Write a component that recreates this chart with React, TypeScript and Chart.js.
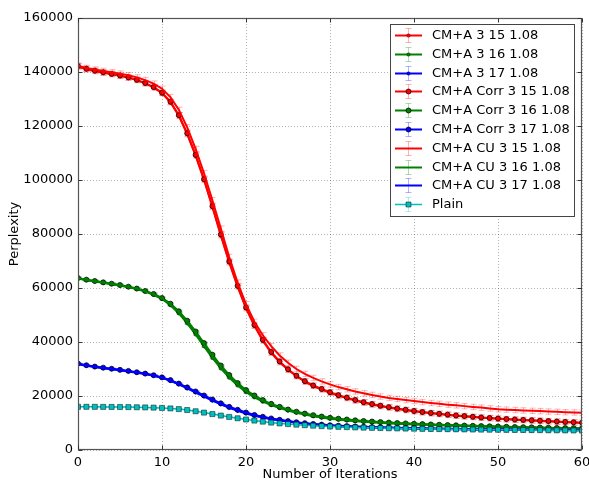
import React, { useEffect, useRef } from "react";
import { Chart, registerables } from "chart.js";

Chart.register(...registerables);

const ITERATIONS = Array.from({ length: 61 }, (_, i) => i);
const X_TICKS = [0, 10, 20, 30, 40, 50, 60];
const Y_TICKS = [0, 20000, 40000, 60000, 80000, 100000, 120000, 140000, 160000];
const X_TITLE = "Number of Iterations";
const Y_TITLE = "Perplexity";

const LABELS = [
  "CM+A 3 15 1.08",
  "CM+A 3 16 1.08",
  "CM+A 3 17 1.08",
  "CM+A Corr 3 15 1.08",
  "CM+A Corr 3 16 1.08",
  "CM+A Corr 3 17 1.08",
  "CM+A CU 3 15 1.08",
  "CM+A CU 3 16 1.08",
  "CM+A CU 3 17 1.08",
  "Plain",
];

const CMA_3_15 = [142000,141000,140300,139700,139200,138600,137900,137000,135800,134300,132200,
  128800,123800,117000,109000,100000,90000,79500,69500,60500,52500,
  46000,40500,36000,32500,29700,27300,25300,23700,22400,21200,
  20100,19200,18300,17500,16800,16200,15700,15200,14750,14350,
  13950,13600,13300,13000,12700,12450,12200,11950,11750,11550,
  11350,11200,11050,10900,10750,10600,10450,10300,10150,10000];
const CMA_3_16 = [63500,62900,62400,61900,61400,60900,60300,59600,58700,57500,55900,
  53600,50600,46900,42800,38400,34100,30200,26800,23900,21400,
  19500,17900,16600,15500,14600,13800,13100,12500,12000,11600,
  11250,10950,10700,10450,10250,10050,9880,9730,9590,9460,
  9340,9230,9130,9030,8940,8850,8770,8690,8610,8530,
  8460,8390,8320,8250,8180,8110,8050,7990,7930,7870];
const CMA_3_17 = [31800,31200,30700,30300,29900,29500,29100,28600,28100,27500,26700,
  25600,24300,22800,21300,19800,18300,16900,15600,14500,13500,
  12700,12000,11400,10900,10450,10050,9700,9400,9150,8950,
  8780,8630,8500,8380,8280,8190,8110,8040,7970,7910,
  7860,7810,7760,7720,7680,7640,7600,7570,7540,7510,
  7480,7450,7420,7400,7380,7350,7330,7310,7290,7270];
const CORR_3_15 = [142200,141200,140500,139900,139300,138700,138000,137100,135900,134400,132300,
  129000,124000,117300,109300,100300,90300,79800,69800,60800,52800,
  46300,40800,36300,32800,29900,27500,25500,23900,22600,21400,
  20300,19400,18500,17700,17000,16400,15850,15350,14900,14450,
  14050,13700,13400,13100,12800,12550,12300,12050,11850,11650,
  11450,11300,11150,11000,10850,10700,10550,10400,10250,10100];
const CORR_3_16 = [63700,63100,62600,62100,61600,61100,60500,59800,58900,57800,56300,
  54200,51400,47900,43900,39600,35300,31300,27800,24800,22200,
  20200,18500,17100,16000,15000,14200,13500,12900,12400,11950,
  11600,11300,11000,10750,10550,10350,10170,10000,9850,9720,
  9590,9470,9360,9250,9150,9050,8960,8870,8780,8700,
  8620,8540,8470,8400,8330,8260,8190,8130,8070,8010];
const CORR_3_17 = [32000,31400,30900,30500,30100,29700,29300,28800,28300,27700,26900,
  25900,24600,23200,21700,20200,18700,17300,16000,14900,13900,
  13000,12300,11700,11200,10700,10300,9950,9650,9400,9180,
  9000,8850,8710,8590,8480,8380,8290,8210,8140,8080,
  8020,7970,7920,7870,7830,7790,7750,7710,7680,7650,
  7620,7590,7560,7530,7510,7480,7460,7440,7420,7400];
const CU_3_15 = [142300,141500,140900,140400,139900,139400,138800,138000,137000,135700,133800,
  130700,126000,119500,111500,102500,92500,82000,71500,62000,54000,
  47500,42500,38500,35000,32300,30000,28200,26700,25400,24300,
  23300,22500,21700,21000,20400,19800,19300,18900,18500,18150,
  17750,17400,17100,16800,16550,16250,15950,15700,15400,15100,
  14950,14800,14650,14500,14400,14250,14150,14000,13900,13800];
const CU_3_16 = [63600,63000,62500,62000,61500,61000,60400,59700,58800,57700,56100,
  53900,51000,47400,43400,39000,34700,30700,27300,24300,21800,
  19800,18200,16900,15800,14800,14000,13300,12700,12200,11750,
  11400,11100,10850,10600,10400,10200,10030,9870,9720,9590,
  9460,9350,9240,9140,9040,8950,8860,8770,8690,8610,
  8530,8460,8390,8320,8250,8190,8130,8070,8010,7950];
const CU_3_17 = [31900,31300,30800,30400,30000,29600,29200,28700,28200,27600,26800,
  25750,24450,23000,21500,20000,18500,17100,15800,14700,13700,
  12850,12150,11550,11050,10600,10200,9850,9550,9300,9080,
  8900,8750,8620,8500,8400,8300,8220,8140,8070,8010,
  7950,7900,7850,7810,7770,7730,7690,7660,7630,7600,
  7570,7540,7510,7490,7460,7440,7420,7400,7380,7360];
const PLAIN = [16000,16000,15990,15970,15950,15920,15880,15830,15770,15690,15580,
  15400,15150,14800,14350,13850,13300,12750,12250,11750,11300,
  10900,10500,10150,9850,9600,9380,9180,9000,8840,8700,
  8580,8470,8370,8280,8200,8130,8060,8000,7940,7890,
  7840,7790,7750,7710,7670,7630,7590,7560,7530,7500,
  7470,7440,7410,7380,7350,7320,7290,7260,7230,7200];

// error-bar half sizes (data units)
const ERR_15 = 1000;
const ERR_16 = 400;
const ERR_17 = 250;
const ERR_PLAIN = 150;

const RED = "#ff0000";
const GREEN = "#008000";
const BLUE = "#0000ff";
const CYAN = "#00bfbf";
const ERR_COLORS: Record<string, string> = {
  [RED]: "rgba(255,0,0,0.3)",
  [GREEN]: "rgba(0,128,0,0.3)",
  [BLUE]: "rgba(0,0,255,0.3)",
  [CYAN]: "rgba(0,191,191,0.3)",
};

type Kind = "A" | "Corr" | "CU" | "Plain";
const SERIES: { label: string; values: number[]; color: string; kind: Kind; err: number }[] = [
  { label: LABELS[0], values: CMA_3_15, color: RED, kind: "A", err: ERR_15 },
  { label: LABELS[1], values: CMA_3_16, color: GREEN, kind: "A", err: ERR_16 },
  { label: LABELS[2], values: CMA_3_17, color: BLUE, kind: "A", err: ERR_17 },
  { label: LABELS[3], values: CORR_3_15, color: RED, kind: "Corr", err: ERR_15 },
  { label: LABELS[4], values: CORR_3_16, color: GREEN, kind: "Corr", err: ERR_16 },
  { label: LABELS[5], values: CORR_3_17, color: BLUE, kind: "Corr", err: ERR_17 },
  { label: LABELS[6], values: CU_3_15, color: RED, kind: "CU", err: ERR_15 },
  { label: LABELS[7], values: CU_3_16, color: GREEN, kind: "CU", err: ERR_16 },
  { label: LABELS[8], values: CU_3_17, color: BLUE, kind: "CU", err: ERR_17 },
  { label: LABELS[9], values: PLAIN, color: CYAN, kind: "Plain", err: ERR_PLAIN },
];

const FONT = '"DejaVu Sans", sans-serif';

function drawMarker(ctx: CanvasRenderingContext2D, kind: Kind, color: string, x: number, y: number) {
  if (kind === "CU") return;
  ctx.save();
  ctx.fillStyle = color;
  if (kind === "Plain") {
    ctx.strokeStyle = "rgba(0,0,0,0.6)";
    ctx.lineWidth = 0.8;
    ctx.beginPath();
    ctx.rect(x - 2.5, y - 2.5, 5, 5);
    ctx.fill();
    ctx.stroke();
  } else {
    const r = kind === "Corr" ? 2.5 : 1.8;
    ctx.strokeStyle = kind === "Corr" ? "rgba(0,0,0,0.75)" : "rgba(0,0,0,0.55)";
    ctx.lineWidth = kind === "Corr" ? 1 : 0.6;
    ctx.beginPath();
    ctx.arc(x, y, r, 0, Math.PI * 2);
    ctx.fill();
    ctx.stroke();
  }
  ctx.restore();
}

const decorPlugin = {
  id: "decor",
  beforeDatasetDraw(chart: any, args: any) {
    const s = SERIES[args.index];
    if (!s) return;
    const { ctx, chartArea: a } = chart;
    const xs = chart.scales.x;
    const ys = chart.scales.y;
    ctx.save();
    ctx.beginPath();
    ctx.rect(a.left, a.top, a.right - a.left, a.bottom - a.top);
    ctx.clip();
    ctx.strokeStyle = ERR_COLORS[s.color];
    ctx.lineWidth = 1;
    ITERATIONS.forEach((it, i) => {
      const px = Math.round(xs.getPixelForValue(it)) + 0.5;
      const v = s.values[i];
      const y1 = ys.getPixelForValue(v - s.err);
      const y2 = ys.getPixelForValue(v + s.err);
      ctx.beginPath();
      ctx.moveTo(px, y1);
      ctx.lineTo(px, y2);
      ctx.moveTo(px - 3, y1);
      ctx.lineTo(px + 3, y1);
      ctx.moveTo(px - 3, y2);
      ctx.lineTo(px + 3, y2);
      ctx.stroke();
    });
    ctx.restore();
  },
  afterDraw(chart: any) {
    const { ctx, chartArea: a } = chart;
    const xs = chart.scales.x;
    const ys = chart.scales.y;
    ctx.save();
    // frame
    ctx.strokeStyle = "#555";
    ctx.lineWidth = 1.2;
    const L = Math.round(a.left) + 0.5;
    const R = Math.round(a.right) - 0.5;
    const T = Math.round(a.top) + 0.5;
    const B = Math.round(a.bottom) - 0.5;
    ctx.strokeRect(L, T, R - L, B - T);
    // inward ticks
    ctx.strokeStyle = "#333";
    ctx.lineWidth = 1;
    ctx.beginPath();
    X_TICKS.forEach((v) => {
      const px = Math.round(xs.getPixelForValue(v)) + 0.5;
      ctx.moveTo(px, B);
      ctx.lineTo(px, B - 4);
      ctx.moveTo(px, T);
      ctx.lineTo(px, T + 4);
    });
    Y_TICKS.forEach((v) => {
      const py = Math.round(ys.getPixelForValue(v)) + 0.5;
      ctx.moveTo(L, py);
      ctx.lineTo(L + 4, py);
      ctx.moveTo(R, py);
      ctx.lineTo(R - 4, py);
    });
    ctx.stroke();

    // legend
    const bx = 390.5, by = 24.5, bw = 184, bh = 192;
    ctx.fillStyle = "#fff";
    ctx.fillRect(bx, by, bw, bh);
    ctx.strokeStyle = "#444";
    ctx.lineWidth = 1;
    ctx.strokeRect(bx, by, bw, bh);
    ctx.font = `13px ${FONT}`;
    ctx.textBaseline = "middle";
    ctx.textAlign = "left";
    SERIES.forEach((s, i) => {
      const cy = Math.round(35 + i * 18.8) + 0.5;
      const x0 = 395, x1 = 422, xm = 408.5;
      // error bar
      ctx.strokeStyle = ERR_COLORS[s.color];
      ctx.lineWidth = 1;
      ctx.beginPath();
      ctx.moveTo(xm, cy - 7);
      ctx.lineTo(xm, cy + 7);
      ctx.moveTo(xm - 3, cy - 7);
      ctx.lineTo(xm + 3, cy - 7);
      ctx.moveTo(xm - 3, cy + 7);
      ctx.lineTo(xm + 3, cy + 7);
      ctx.stroke();
      // line
      ctx.strokeStyle = s.color;
      ctx.lineWidth = s.kind === "Plain" ? 1.5 : 2;
      ctx.beginPath();
      ctx.moveTo(x0, cy);
      ctx.lineTo(x1, cy);
      ctx.stroke();
      drawMarker(ctx, s.kind, s.color, xm, cy);
      ctx.fillStyle = "#000";
      ctx.fillText(s.label, 432, cy + 0.5);
    });
    ctx.restore();
  },
};

export default function App() {
  const ref = useRef<HTMLCanvasElement | null>(null);
  useEffect(() => {
    if (!ref.current) return;
    const datasets = SERIES.map((s, i) => {
      const base: any = {
        label: s.label,
        data: ITERATIONS.map((it, j) => ({ x: it, y: s.values[j] })),
        borderColor: s.color,
        backgroundColor: s.color,
        borderWidth: s.kind === "Plain" ? 1.5 : 2,
        tension: 0,
        order: -i,
        pointHoverRadius: 0,
      };
      if (s.kind === "CU") {
        base.pointRadius = 0;
      } else if (s.kind === "Plain") {
        base.pointStyle = "rect";
        base.pointRadius = 3.6;
        base.pointBackgroundColor = s.color;
        base.pointBorderColor = "rgba(0,0,0,0.6)";
        base.pointBorderWidth = 0.8;
      } else if (s.kind === "Corr") {
        base.pointRadius = 2.5;
        base.pointBackgroundColor = s.color;
        base.pointBorderColor = "rgba(0,0,0,0.75)";
        base.pointBorderWidth = 1;
      } else {
        base.pointRadius = 1.8;
        base.pointBackgroundColor = s.color;
        base.pointBorderColor = "rgba(0,0,0,0.55)";
        base.pointBorderWidth = 0.6;
      }
      return base;
    });
    const grid = {
      color: "rgba(0,0,0,0.3)",
      lineWidth: 1,
      drawTicks: false,
    };
    const border = { display: false, dash: [1, 2] };
    const chart = new Chart(ref.current, {
      type: "line",
      data: { datasets },
      plugins: [decorPlugin],
      options: {
        animation: false,
        responsive: false,
        maintainAspectRatio: false,
        layout: { padding: { top: 18, right: 0, left: 0, bottom: 0 } },
        plugins: { legend: { display: false }, tooltip: { enabled: false } },
        scales: {
          x: {
            type: "linear",
            min: 0,
            max: 60,
            afterBuildTicks: (sc: any) => {
              sc.ticks = X_TICKS.map((v) => ({ value: v }));
            },
            afterFit: (sc: any) => {
              sc.height = 31;
              sc.paddingRight = 7;
              sc.paddingLeft = 0;
            },
            ticks: {
              color: "#000",
              font: { family: FONT, size: 13 },
              padding: 5,
              maxRotation: 0,
              callback: (v: any) => String(v),
            },
            grid: { ...grid },
            border: { ...border },
            title: {
              display: true,
              text: X_TITLE,
              color: "#000",
              font: { family: FONT, size: 13, lineHeight: 1 },
              padding: { top: 0, bottom: 0 },
            },
          },
          y: {
            type: "linear",
            min: 0,
            max: 160000,
            afterBuildTicks: (sc: any) => {
              sc.ticks = Y_TICKS.map((v) => ({ value: v }));
            },
            afterFit: (sc: any) => {
              sc.width = 78;
            },
            ticks: {
              color: "#000",
              font: { family: FONT, size: 13 },
              padding: 5,
              callback: (v: any) => String(v),
            },
            grid: { ...grid },
            border: { ...border },
            title: {
              display: true,
              text: Y_TITLE,
              color: "#000",
              font: { family: FONT, size: 13, lineHeight: 1 },
              padding: { top: 8, bottom: 0 },
            },
          },
        },
      } as any,
    });
    return () => chart.destroy();
  }, []);
  return (
    <div style={{ position: "fixed", left: 0, top: 0, width: 589, height: 481, background: "#fff" }}>
      <canvas ref={ref} width={589} height={481} style={{ width: 589, height: 481 }} />
    </div>
  );
}
